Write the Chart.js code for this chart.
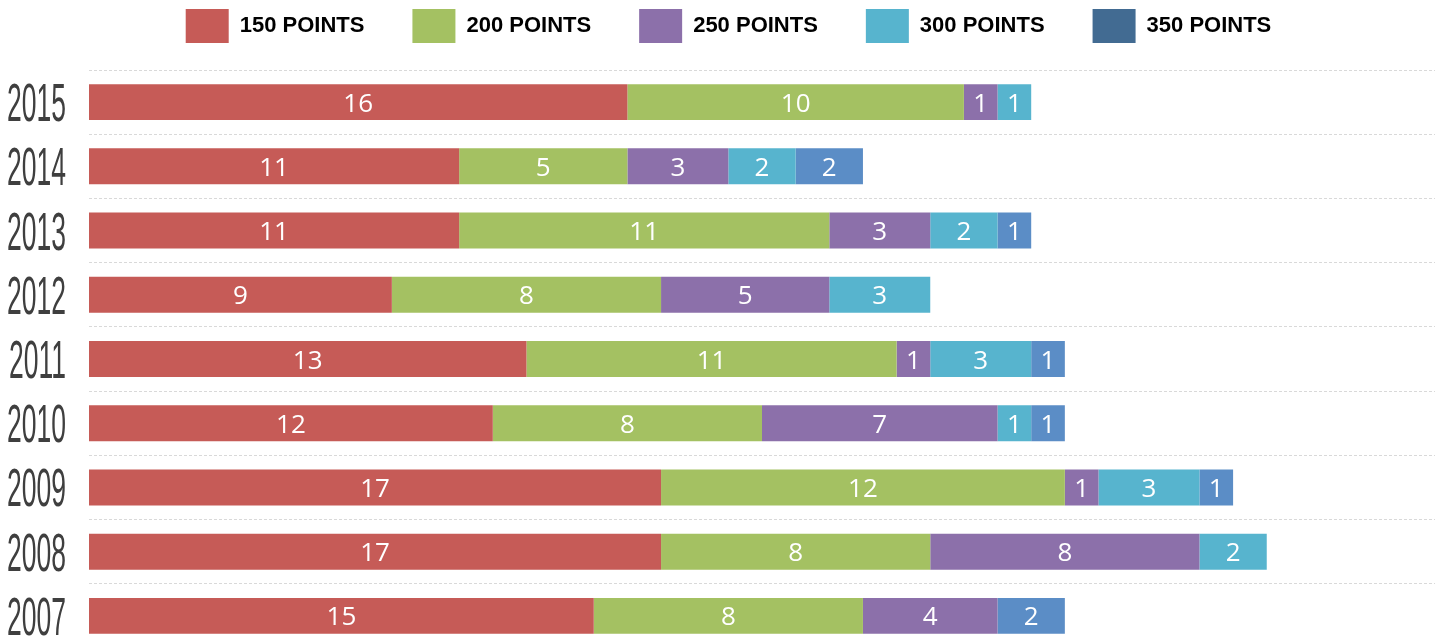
<!DOCTYPE html>
<html>
<head>
<meta charset="utf-8">
<script src="https://cdn.jsdelivr.net/npm/chart.js@4/dist/chart.umd.min.js"></script>
<style>
  html, body { margin: 0; padding: 0; background: #fff; overflow: hidden; }
  #wrap { position: relative; width: 1443px; height: 650px; }
</style>
</head>
<body>
<div id="wrap"><canvas id="chart"></canvas></div>
<script>
const years = ['2015', '2014', '2013', '2012', '2011', '2010', '2009', '2008', '2007']
const pts150 = [16, 11, 11, 9, 13, 12, 17, 17, 15]
const pts200 = [10, 5, 11, 8, 11, 8, 12, 8, 8]
const pts250 = [1, 3, 3, 5, 1, 7, 1, 8, 4]
const pts300 = [1, 2, 2, 3, 3, 1, 3, 2, 0]
const pts350 = [0, 2, 1, 0, 1, 1, 1, 0, 2]
const seriesNames = ['150 POINTS', '200 POINTS', '250 POINTS', '300 POINTS', '350 POINTS']

const barColors = ['#c65b57', '#a4c162', '#8c70aa', '#57b4ce', '#5b8dc6']
const legendColors = ['#c65b57', '#a4c162', '#8c70aa', '#57b4ce', '#426b92']

// white numbers in the middle of every segment
const segmentLabels = {
    id: 'segmentLabels',
    afterDatasetsDraw(chart) {
        const { ctx } = chart
        ctx.save()
        ctx.font = '26px "Open Sans"'
        ctx.fillStyle = '#ffffff'
        ctx.textAlign = 'center'
        ctx.textBaseline = 'alphabetic'
        chart.data.datasets.forEach((ds, i) => {
            const meta = chart.getDatasetMeta(i)
            meta.data.forEach((bar, j) => {
                const v = ds.data[j]
                if (!v) return
                const { x, base, y } = bar.getProps(['x', 'base', 'y'], true)
                ctx.fillText(String(v), (x + base) / 2, y + 9.5)
            })
        })
        ctx.restore()
    }
}

// tall condensed year labels
const yearLabels = {
    id: 'yearLabels',
    afterDraw(chart) {
        const { ctx } = chart
        const yScale = chart.scales.y
        ctx.save()
        ctx.font = '53px "Liberation Sans"'
        ctx.fillStyle = '#3f3f3f'
        ctx.textAlign = 'right'
        ctx.textBaseline = 'alphabetic'
        yScale.getLabels().forEach((label, i) => {
            const y = yScale.getPixelForValue(i)
            ctx.save()
            ctx.translate(66, y + 19)
            ctx.scale(0.5, 1)
            ctx.fillText(label, 0, 0)
            ctx.restore()
        })
        ctx.restore()
    }
}

const allSeries = [pts150, pts200, pts250, pts300, pts350]

new Chart(document.getElementById('chart'), {
    type: 'bar',
    data: {
        labels: years,
        datasets: allSeries.map((data, i) => ({
            label: seriesNames[i],
            data: data,
            backgroundColor: barColors[i],
            borderWidth: 0,
            barPercentage: 0.56,
            categoryPercentage: 1
        }))
    },
    options: {
        indexAxis: 'y',
        responsive: true,
        maintainAspectRatio: false,
        animation: false,
        layout: {
            padding: { top: -39, right: 8, bottom: 2, left: 22 }
        },
        scales: {
            x: {
                stacked: true,
                min: 0,
                max: 40,
                position: 'top',
                ticks: { display: false },
                grid: { display: false },
                border: { display: false },
                afterFit(scale) {
                    // blank band between legend and first grid line
                    scale.height = 17
                }
            },
            y: {
                stacked: true,
                ticks: { display: false },
                grid: {
                    color: '#d9d9d9',
                    lineWidth: 1,
                    drawTicks: false,
                    offset: true
                },
                border: { display: false, dash: [3, 2] },
                afterFit(scale) {
                    scale.width = 67
                }
            }
        },
        plugins: {
            legend: {
                position: 'top',
                labels: {
                    boxWidth: 43,
                    boxHeight: 34,
                    padding: 48,
                    color: '#000000',
                    font: { family: '"Liberation Sans"', size: 22, weight: 'bold' },
                    generateLabels(chart) {
                        const items = Chart.defaults.plugins.legend.labels.generateLabels(chart)
                        items.forEach((it, i) => {
                            it.fillStyle = legendColors[i]
                            it.strokeStyle = legendColors[i]
                            it.lineWidth = 0
                        })
                        return items
                    }
                }
            },
            tooltip: { enabled: false }
        }
    },
    plugins: [segmentLabels, yearLabels]
})
</script>
</body>
</html>
